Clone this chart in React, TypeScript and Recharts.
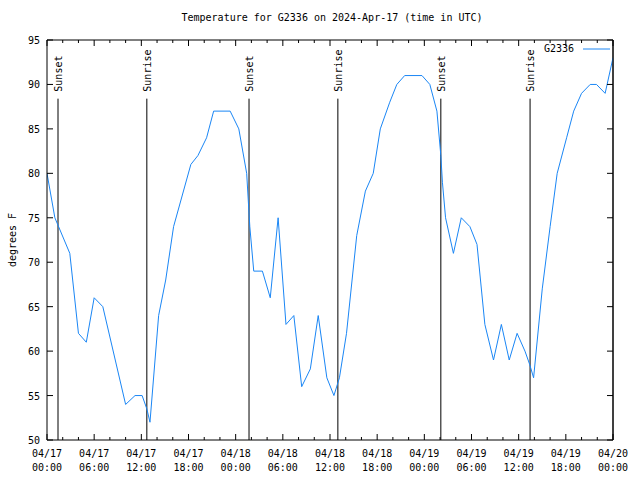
import React from 'react'
import { LineChart, Line, XAxis, YAxis, ReferenceLine, Legend } from 'recharts'

document.body.style.margin = '0'

const FONT = '"DejaVu Sans Mono", "Liberation Mono", monospace'
const LINE_COLOR = '#1a86f5'
const PLOT_W = 566 // 640 - 47 left axis - 27 right margin
const PLOT_H = 400 // 480 - 40 top margin - 40 x axis

// hours since 04/17 00:00 UTC
const HOURS = [
  0, 1.0, 2.9, 4.0, 5.0, 6.0, 7.1, 10.0, 11.2, 12.1, 12.7, 13.1, 14.2, 15.1, 16.1,
  18.3, 19.2, 20.3, 21.2, 23.3, 24.4, 25.4, 25.8, 26.3, 27.4, 28.4, 29.4, 30.4,
  31.4, 32.4, 33.5, 34.5, 35.6, 36.5, 37.2, 38.1, 39.4, 40.5, 41.5, 42.4, 43.6,
  44.5, 45.5, 47.7, 48.7, 49.6, 50.1, 50.3, 50.7, 51.7, 52.7, 53.8, 54.7, 55.7,
  56.8, 57.8, 58.8, 59.8, 60.8, 61.4, 61.9, 63.0, 64.0, 64.9, 66.1, 67.0, 68.0,
  69.1, 69.9, 71.0, 72.0,
]
const TEMPS = [
  80, 75, 71, 62, 61, 66, 65, 54, 55, 55, 53.5, 52, 64, 68, 74,
  81, 82, 84, 87, 87, 85, 80, 74, 69, 69, 66, 75, 63,
  64, 56, 58, 64, 57, 55, 57, 62, 73, 78, 80, 85, 88,
  90, 91, 91, 90, 87, 82, 79, 75, 71, 75, 74, 72, 63,
  59, 63, 59, 62, 60, 58.5, 57, 67, 74, 80, 84, 87, 89,
  90, 90, 89, 93,
]

const SUN_TIMES = [1.4, 12.7, 25.7, 37.0, 50.1, 61.45]
const SUN_NAMES = ['Sunset', 'Sunrise', 'Sunset', 'Sunrise', 'Sunset', 'Sunrise']

const X_TICKS = [0, 2, 4, 6, 8, 10, 12, 14, 16, 18, 20, 22, 24, 26, 28, 30, 32, 34, 36, 38, 40, 42, 44, 46, 48, 50, 52, 54, 56, 58, 60, 62, 64, 66, 68, 70, 72]
const MAJOR_HOURS = [0, 6, 12, 18, 24, 30, 36, 42, 48, 54, 60, 66, 72]
const TICK_DATES = ['04/17', '04/17', '04/17', '04/17', '04/18', '04/18', '04/18', '04/18', '04/19', '04/19', '04/19', '04/19', '04/20']
const TICK_TIMES = ['00:00', '06:00', '12:00', '18:00', '00:00', '06:00', '12:00', '18:00', '00:00', '06:00', '12:00', '18:00', '00:00']
const Y_TICKS = [50, 55, 60, 65, 70, 75, 80, 85, 90, 95]

const data = HOURS.map((t, i) => ({ t, temp: TEMPS[i] }))

// bottom tick + mirrored tick on the top border
const BottomTick = ({ x, y, payload }: any) => {
  const i = MAJOR_HOURS.indexOf(payload.value)
  const len = i >= 0 ? 6 : 3
  return (
    <g>
      <line x1={x} x2={x} y1={y} y2={y - len} stroke="#000" />
      <line x1={x} x2={x} y1={y - PLOT_H} y2={y - PLOT_H + len} stroke="#000" />
      {i >= 0 && (
        <text textAnchor="middle" fontFamily={FONT} fontSize={10} fill="#000">
          <tspan x={x} y={y + 17}>{TICK_DATES[i]}</tspan>
          <tspan x={x} y={y + 31}>{TICK_TIMES[i]}</tspan>
        </text>
      )}
    </g>
  )
}

// left tick + mirrored tick and border segment on the right side
const LeftTick = ({ x, y, payload, index }: any) => (
  <g>
    <line x1={x} x2={x + 6} y1={y} y2={y} stroke="#000" />
    <line x1={x + PLOT_W} x2={x + PLOT_W - 6} y1={y} y2={y} stroke="#000" />
    {index > 0 && (
      <line x1={x + PLOT_W} x2={x + PLOT_W} y1={y} y2={y + PLOT_H / (Y_TICKS.length - 1)} stroke="#000" />
    )}
    <text x={x - 7} y={y + 4} textAnchor="end" fontFamily={FONT} fontSize={10} fill="#000">{payload.value}</text>
  </g>
)

const sunLabel = (text: string) => (props: any) => {
  const vb = props.viewBox || {}
  return (
    <text
      transform={`translate(${vb.x + 4},${vb.y - 7}) rotate(-90)`}
      textAnchor="start"
      fontFamily={FONT}
      fontSize={10}
      fill="#000"
    >
      {text}
    </text>
  )
}

const LegendContent = () => (
  <div style={{ display: 'flex', alignItems: 'center', fontFamily: FONT, fontSize: 10 }}>
    <span style={{ width: 42, textAlign: 'right' }}>G2336</span>
    <svg width={36} height={10} style={{ marginLeft: 8 }}>
      <line x1={1} x2={28} y1={5} y2={5} stroke={LINE_COLOR} />
    </svg>
  </div>
)

export default function App() {
  return (
    <div style={{ position: 'relative', width: 640, height: 480, background: '#fff', overflow: 'hidden' }}>
      <div style={{ position: 'absolute', top: 12, left: 0, width: 616, paddingLeft: 24, textAlign: 'center', fontFamily: FONT, fontSize: 10 }}>
        Temperature for G2336 on 2024-Apr-17 (time in UTC)
      </div>
      <div
        style={{
          position: 'absolute', left: 12, top: 240, fontFamily: FONT, fontSize: 10,
          transform: 'translate(-50%, -50%) rotate(-90deg)', transformOrigin: 'center', whiteSpace: 'nowrap',
        }}
      >
        degrees F
      </div>
      <LineChart width={640} height={480} data={data} margin={{ top: 40, right: 27, bottom: 0, left: 0 }}>
        <XAxis
          dataKey="t" type="number" domain={[0, 72]} ticks={X_TICKS} interval={0}
          height={40} tickSize={0} tickMargin={0} tickLine={false} tick={BottomTick}
          axisLine={{ stroke: '#000' }} allowDataOverflow
        />
        <YAxis
          type="number" domain={[50, 95]} ticks={Y_TICKS} interval={0} width={47}
          tickSize={0} tickMargin={0} tickLine={false} tick={LeftTick}
          axisLine={{ stroke: '#000' }} allowDataOverflow
        />
        <ReferenceLine x={72} stroke="#000" ifOverflow="visible" />
        <ReferenceLine y={95} stroke="#000" ifOverflow="visible" />
        {SUN_TIMES.map((t, i) => (
          <ReferenceLine
            key={i}
            segment={[{ x: t, y: 50 }, { x: t, y: 88.4 }]}
            stroke="#000"
            label={sunLabel(SUN_NAMES[i])}
          />
        ))}
        <Line
          type="linear" dataKey="temp" name="G2336" stroke={LINE_COLOR} strokeWidth={1}
          dot={false} isAnimationActive={false}
        />
        <Legend
          layout="horizontal" verticalAlign="middle" align="center"
          content={<LegendContent />}
          wrapperStyle={{ position: 'absolute', top: 43, left: 532, width: 90 }}
        />
      </LineChart>
    </div>
  )
}
